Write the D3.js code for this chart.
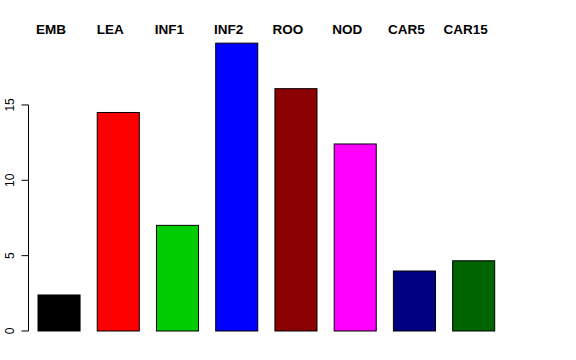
<!DOCTYPE html>
<html>
<head>
<meta charset="utf-8">
<script src="https://cdn.jsdelivr.net/npm/d3@7"></script>
<style>
  body { margin: 0; background: #fff; }
  svg { display: block; font-family: "Liberation Sans", Arial, sans-serif; }
</style>
</head>
<body>
<svg width="576" height="360"></svg>
<script>
const categories = ["EMB", "LEA", "INF1", "INF2", "ROO", "NOD", "CAR5", "CAR15"];
const values = [2.39, 14.5, 7.01, 19.1, 16.08, 12.41, 3.98, 4.66];
const barColors = ["#000000", "#FF0000", "#00CD00", "#0000FF", "#8B0000", "#FF00FF", "#000080", "#006400"];
const yTicks = [0, 5, 10, 15];

const svg = d3.select("svg");

// plot region roughly as R's barplot lays it out
const x = d3.scaleBand()
    .domain(categories)
    .range([38, 494.7])
    .paddingInner(0.29)
    .paddingOuter(0);

const y = d3.scaleLinear()
    .domain([0, 20])
    .range([331, 29.6]);

// bars
svg.selectAll(".bar")
    .data(categories)
    .enter().append("rect")
    .attr("class", "bar")
    .attr("x", d => x(d))
    .attr("y", (d, i) => y(values[i]))
    .attr("width", x.bandwidth())
    .attr("height", (d, i) => y(0) - y(values[i]))
    .style("fill", (d, i) => barColors[i])
    .style("stroke", "#000")
    .style("stroke-width", 1);

// y axis, R style: line only between first and last tick, rotated labels
const axis = svg.append("g")
    .attr("transform", "translate(28.5,0)");

axis.append("line")
    .attr("y1", y(yTicks[0]))
    .attr("y2", y(yTicks[yTicks.length - 1]))
    .style("stroke", "#000");

axis.selectAll(".tick")
    .data(yTicks)
    .enter().append("line")
    .attr("class", "tick")
    .attr("x1", -7)
    .attr("x2", 0)
    .attr("y1", d => y(d))
    .attr("y2", d => y(d))
    .style("stroke", "#000");

axis.selectAll(".tlab")
    .data(yTicks)
    .enter().append("text")
    .attr("class", "tlab")
    .attr("transform", d => "translate(-15," + y(d) + ")rotate(-90)")
    .attr("text-anchor", "middle")
    .style("font-size", "12px")
    .text(d => d);

// category names across the top
svg.selectAll(".cat")
    .data(categories)
    .enter().append("text")
    .attr("class", "cat")
    .attr("x", d => x(d) + x.bandwidth() / 2 - 8)
    .attr("y", 34)
    .attr("text-anchor", "middle")
    .style("font-size", "13.5px")
    .style("font-weight", "bold")
    .text(d => d);
</script>
</body>
</html>
